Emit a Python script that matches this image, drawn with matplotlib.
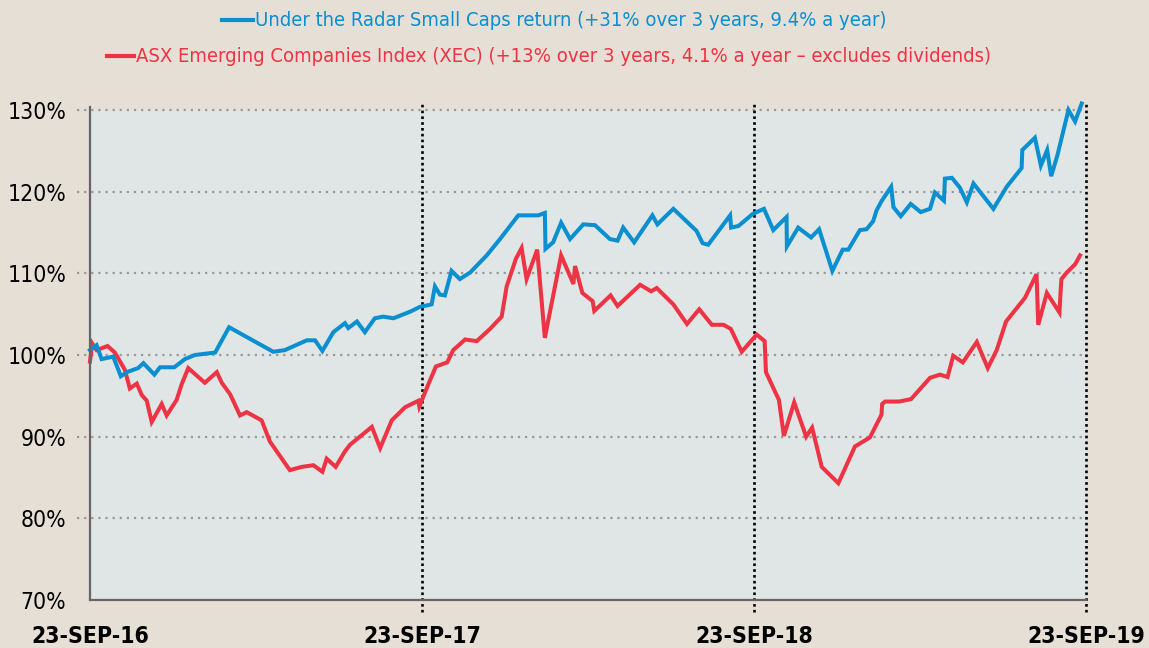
import matplotlib
matplotlib.use("Agg")
import matplotlib.pyplot as plt
from matplotlib.lines import Line2D

# years since 23-Sep-16, value as % of starting value
radar_years = [
    0.000, 0.020, 0.035, 0.070, 0.093, 0.111, 0.145, 0.161, 0.194, 0.211,
    0.254, 0.286, 0.316, 0.377, 0.419, 0.552, 0.587, 0.653, 0.678, 0.700,
    0.733, 0.768, 0.778, 0.804, 0.828, 0.858, 0.883, 0.914, 0.964, 0.994,
    1.029, 1.039, 1.054, 1.069, 1.089, 1.114, 1.145, 1.195, 1.235, 1.290,
    1.350, 1.370, 1.372, 1.395, 1.419, 1.446, 1.486, 1.521, 1.566, 1.589,
    1.606, 1.639, 1.694, 1.709, 1.757, 1.827, 1.845, 1.862, 1.928, 1.931,
    1.953, 1.997, 2.030, 2.058, 2.098, 2.099, 2.133, 2.172, 2.196, 2.236,
    2.267, 2.284, 2.319, 2.339, 2.359, 2.369, 2.385, 2.413, 2.420, 2.442,
    2.472, 2.502, 2.530, 2.545, 2.572, 2.575, 2.596, 2.620, 2.641, 2.661,
    2.721, 2.761, 2.806, 2.808, 2.846, 2.864, 2.883, 2.895, 2.914, 2.947,
    2.967, 2.987,
]
radar_values = [
    100.6, 101.2, 99.5, 99.8, 97.4, 97.9, 98.4, 99.0, 97.6, 98.5,
    98.5, 99.5, 100.0, 100.3, 103.4, 100.4, 100.6, 101.8, 101.8, 100.5,
    102.8, 103.9, 103.3, 104.1, 102.8, 104.5, 104.7, 104.5, 105.3, 105.9,
    106.2, 108.4, 107.4, 107.3, 110.3, 109.3, 110.1, 112.2, 114.2, 117.1,
    117.1, 117.4, 113.0, 113.8, 116.2, 114.2, 116.0, 115.9, 114.2, 114.0,
    115.6, 113.8, 117.1, 116.0, 117.9, 115.2, 113.7, 113.5, 117.1, 115.6,
    115.8, 117.3, 117.9, 115.3, 116.9, 113.3, 115.6, 114.4, 115.4, 110.3,
    112.9, 112.9, 115.3, 115.4, 116.4, 117.7, 118.9, 120.6, 118.1, 117.0,
    118.5, 117.5, 117.9, 119.9, 118.9, 121.6, 121.7, 120.5, 118.7, 121.0,
    117.9, 120.6, 122.9, 125.1, 126.6, 123.2, 125.1, 121.9, 124.5, 130.0,
    128.6, 130.8,
]

xec_years = [
    0.000, 0.007, 0.020, 0.053, 0.075, 0.105, 0.120, 0.141, 0.156, 0.171,
    0.186, 0.216, 0.231, 0.261, 0.276, 0.296, 0.346, 0.382, 0.397, 0.422,
    0.452, 0.472, 0.517, 0.542, 0.602, 0.638, 0.673, 0.700, 0.713, 0.740,
    0.768, 0.783, 0.849, 0.874, 0.909, 0.949, 0.989, 0.992, 1.019, 1.042,
    1.076, 1.094, 1.130, 1.165, 1.205, 1.240, 1.255, 1.283, 1.300, 1.315,
    1.347, 1.370, 1.419, 1.456, 1.461, 1.483, 1.514, 1.519, 1.568, 1.589,
    1.657, 1.690, 1.707, 1.757, 1.798, 1.835, 1.873, 1.908, 1.930, 1.963,
    2.008, 2.032, 2.036, 2.075, 2.090, 2.121, 2.157, 2.175, 2.204, 2.254,
    2.304, 2.349, 2.384, 2.386, 2.395, 2.437, 2.473, 2.530, 2.560, 2.583,
    2.600, 2.629, 2.671, 2.704, 2.731, 2.759, 2.816, 2.851, 2.856, 2.882,
    2.920, 2.924, 2.926, 2.942, 2.967, 2.982,
]
xec_values = [
    99.2, 101.4, 100.6, 101.1, 100.3, 98.2, 95.9, 96.5, 95.1, 94.4,
    91.8, 94.0, 92.6, 94.5, 96.4, 98.4, 96.6, 97.9, 96.6, 95.2,
    92.6, 93.0, 92.0, 89.4, 85.9, 86.3, 86.5, 85.7, 87.3, 86.3,
    88.2, 89.0, 91.2, 88.6, 92.0, 93.6, 94.4, 93.7, 96.4, 98.6,
    99.1, 100.6, 101.9, 101.7, 103.2, 104.7, 108.4, 111.8, 113.1, 109.3,
    112.9, 102.1, 112.2, 108.7, 110.9, 107.6, 106.6, 105.4, 107.3, 106.0,
    108.6, 107.8, 108.2, 106.2, 103.8, 105.6, 103.7, 103.7, 103.2, 100.4,
    102.5, 101.7, 97.9, 94.5, 90.1, 94.2, 90.0, 91.1, 86.3, 84.3,
    88.8, 89.9, 92.7, 94.0, 94.3, 94.3, 94.6, 97.2, 97.6, 97.3,
    99.9, 99.1, 101.6, 98.4, 100.6, 104.1, 107.0, 109.9, 103.7, 107.6,
    105.2, 108.2, 109.3, 110.1, 111.1, 112.2,
]

x_ticks = [0, 1, 2, 3]
x_labels = ["23-SEP-16", "23-SEP-17", "23-SEP-18", "23-SEP-19"]
y_ticks = [70, 80, 90, 100, 110, 120, 130]
y_labels = ["70%", "80%", "90%", "100%", "110%", "120%", "130%"]

radar_label = "Under the Radar Small Caps return (+31% over 3 years, 9.4% a year)"
xec_label = ("ASX Emerging Companies Index (XEC) (+13% over 3 years, "
             "4.1% a year \u2013 excludes dividends)")

BLUE = "#0A8FD0"
RED = "#EE3344"
plt.rcParams["font.family"] = ["DejaVu Sans"]
plt.rcParams["font.stretch"] = "condensed"

fig = plt.figure(figsize=(11.49, 6.48), dpi=100, facecolor="#E6DFD5")
ax = fig.add_axes([0.0783, 0.0741, 0.8669, 0.7561])
ax.set_facecolor("#DFE6E5")
ax.set_xlim(0, 3)
ax.set_ylim(70, 130)

# horizontal gridlines, run a bit left of the axis
for y in y_ticks[1:]:
    ax.plot([-0.04, 3], [y, y], color="#999999", lw=1.6,
            ls=(0, (1, 2.2)), clip_on=False, zorder=1)

# year marker lines
for x in x_ticks[1:]:
    ax.plot([x, x], [68.5, 130.8], color="black", lw=1.9,
            ls=(0, (1, 1.2)), clip_on=False, zorder=1)

ax.plot(xec_years, xec_values, color=RED, lw=2.9, clip_on=False, zorder=3,
        solid_joinstyle="miter")
ax.plot(radar_years, radar_values, color=BLUE, lw=2.9, clip_on=False,
        zorder=4, solid_joinstyle="miter")

for side in ["top", "right"]:
    ax.spines[side].set_visible(False)
for side in ["left", "bottom"]:
    ax.spines[side].set_color("#666666")
    ax.spines[side].set_linewidth(1.6)
    ax.spines[side].set_zorder(5)
ax.spines["left"].set_bounds(70, 130.4)

ax.set_yticks(y_ticks)
ax.set_yticklabels(y_labels, fontsize=16.5, fontstretch="condensed")
ax.set_xticks(x_ticks)
ax.set_xticklabels(x_labels, fontsize=16.5, fontweight="bold",
                   fontstretch="condensed")
ax.tick_params(axis="y", length=0, pad=17)
ax.tick_params(axis="x", length=0, pad=18)

# legend drawn by hand at the top
fig.add_artist(Line2D([222 / 1149, 253 / 1149], [1 - 20 / 648, 1 - 20 / 648],
                      color=BLUE, lw=3))
fig.text(255 / 1149, 1 - 20 / 648, radar_label, color=BLUE, fontsize=14.5,
         fontstretch="condensed", ha="left", va="center")
fig.add_artist(Line2D([107 / 1149, 134 / 1149], [1 - 56 / 648, 1 - 56 / 648],
                      color=RED, lw=3))
fig.text(136 / 1149, 1 - 56 / 648, xec_label, color=RED, fontsize=14.5,
         fontstretch="condensed", ha="left", va="center")

fig.savefig("out.png", dpi=100, facecolor=fig.get_facecolor())
